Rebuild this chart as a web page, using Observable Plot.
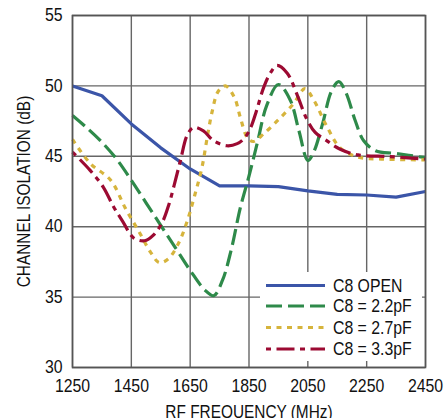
<!DOCTYPE html>
<html>
<head>
<meta charset="utf-8">
<script src="https://cdn.jsdelivr.net/npm/d3@7"></script>
<script src="https://cdn.jsdelivr.net/npm/@observablehq/plot@0.6"></script>
<style>
  html, body { margin: 0; padding: 0; background: #fff; }
  #chart { width: 445px; height: 418px; overflow: hidden; }
</style>
</head>
<body>
<div id="chart"></div>
<script>
const FONT = "'Liberation Sans', Arial, Helvetica, sans-serif";
const SQUEEZE = 0.88;

const xTicks = [1250, 1450, 1650, 1850, 2050, 2250, 2450];
const yTicks = [30, 35, 40, 45, 50, 55];
const xLabel = "RF FREQUENCY (MHz)";
const yLabel = "CHANNEL ISOLATION (dB)";
const seriesNames = ["C8 OPEN", "C8 = 2.2pF", "C8 = 2.7pF", "C8 = 3.3pF"];

const openFreq = [1250, 1350, 1450, 1550, 1650, 1700, 1750, 1850, 1950, 2050, 2150, 2250, 2350, 2450];
const openVal  = [50.0, 49.3, 47.3, 45.6, 44.1, 43.5, 42.9, 42.9, 42.85, 42.55, 42.3, 42.25, 42.1, 42.5];

const c22Freq = [1250, 1300, 1350, 1400, 1450, 1500, 1550, 1600, 1650, 1700, 1730, 1760, 1790, 1820, 1850, 1880, 1910, 1950, 1990, 2020, 2050, 2070, 2100, 2130, 2155, 2180, 2210, 2240, 2280, 2350, 2450];
const c22Val  = [47.9, 47.0, 46.0, 44.8, 43.3, 41.7, 40.1, 38.5, 36.9, 35.5, 35.1, 36.2, 38.4, 41.3, 43.6, 46.1, 48.6, 50.1, 49.0, 46.8, 44.7, 45.3, 47.3, 49.6, 50.3, 49.5, 47.6, 46.1, 45.4, 45.2, 44.9];

const c27Freq = [1250, 1310, 1380, 1430, 1480, 1515, 1545, 1575, 1610, 1640, 1665, 1690, 1710, 1725, 1745, 1770, 1800, 1820, 1845, 1865, 1900, 1950, 2000, 2040, 2070, 2115, 2160, 2220, 2300, 2450];
const c27Val  = [46.2, 44.5, 43.3, 41.3, 39.5, 38.2, 37.45, 37.7, 38.8, 40.4, 42.2, 44.2, 46.6, 48.2, 49.6, 50.0, 49.2, 47.8, 46.3, 46.05, 46.6, 47.6, 48.7, 49.8, 49.0, 47.1, 45.6, 44.95, 44.8, 44.75];

const c33Freq = [1250, 1310, 1355, 1390, 1420, 1458, 1495, 1525, 1555, 1578, 1595, 1617, 1640, 1662, 1695, 1730, 1775, 1810, 1835, 1855, 1875, 1900, 1925, 1945, 1980, 2015, 2045, 2075, 2115, 2160, 2220, 2330, 2450];
const c33Val  = [45.3, 44.0, 42.8, 41.4, 40.4, 39.2, 39.0, 39.4, 40.3, 41.6, 42.9, 44.7, 46.5, 47.05, 46.8, 46.1, 45.75, 45.9, 46.3, 47.0, 48.2, 49.9, 51.0, 51.45, 50.9, 49.3, 47.7, 46.7, 46.1, 45.5, 45.1, 44.98, 44.8];

const colors = ["#3b55a8", "#2e8a4a", "#d6b43c", "#9c0a32"];
const dashes = [null, "16,6", "5,5.5", "5,5.5,18,5.5"];
const curves = ["linear", "catmull-rom", "catmull-rom", "catmull-rom"];

const toRows = (fs, vs) => fs.map((f, i) => ({f, v: vs[i]}));
const series = [toRows(openFreq, openVal), toRows(c22Freq, c22Val), toRows(c27Freq, c27Val), toRows(c33Freq, c33Val)];

const W = 445, H = 418;
const mL = 72, mR = 20, mT = 15, mB = 51;

const plot = Plot.plot({
  width: W,
  height: H,
  marginLeft: mL,
  marginRight: mR,
  marginTop: mT,
  marginBottom: mB,
  style: {fontFamily: FONT, fontSize: "18px", color: "#111", background: "#fff", overflow: "visible"},
  x: {domain: [1250, 2450]},
  y: {domain: [30, 55]},
  marks: [
    Plot.gridX(xTicks, {stroke: "#666", strokeOpacity: 1, strokeWidth: 1.4}),
    Plot.gridY(yTicks, {stroke: "#666", strokeOpacity: 1, strokeWidth: 1.4}),
    ...series.map((rows, i) => Plot.line(rows, {
      x: "f", y: "v", stroke: colors[i], strokeWidth: 3.2,
      strokeDasharray: dashes[i], curve: curves[i], strokeLinecap: "butt"
    })),
    Plot.frame({stroke: "#555", strokeWidth: 1.6}),
    Plot.axisX(xTicks, {tickSize: 0, tickPadding: 12, label: null, fontSize: 18, fill: "#111", tickFormat: d => String(d)}),
    Plot.axisY(yTicks, {tickSize: 0, tickPadding: 10, label: null, fontSize: 18, fill: "#111", tickFormat: d => String(d)}),
    Plot.text([xLabel], {frameAnchor: "bottom", dy: 38, fontSize: 17.5, fill: "#111", textAnchor: "middle", lineAnchor: "top"}),
    Plot.text([yLabel], {frameAnchor: "left", dx: -48, fontSize: 17.5, fill: "#111", rotate: -90, textAnchor: "middle"})
  ]
});

const svg = d3.select(plot);

// Condense all text horizontally (reference uses a condensed sans face)
svg.selectAll("text").each(function() {
  const t = d3.select(this);
  const x = parseFloat(t.attr("x")) || 0;
  const tr = t.attr("transform") || "";
  t.attr("x", null);
  t.attr("transform", `${tr} translate(${x},0) scale(${SQUEEZE},1)`);
});

// Legend box inside the plot area (lower right)
const lg = svg.append("g").attr("font-family", FONT).attr("font-size", 18).attr("text-anchor", "start");
lg.append("rect").attr("x", 260).attr("y", 272).attr("width", 162).attr("height", 89).attr("fill", "#fff");
const rowY = [285.5, 306, 327.5, 349];
seriesNames.forEach((name, i) => {
  lg.append("line")
    .attr("x1", 266).attr("x2", 325).attr("y1", rowY[i]).attr("y2", rowY[i])
    .attr("stroke", colors[i]).attr("stroke-width", 3.2)
    .attr("stroke-dasharray", dashes[i])
    .attr("stroke-linecap", "butt");
  lg.append("text")
    .attr("transform", `translate(333,${rowY[i]}) scale(${SQUEEZE},1)`)
    .attr("dy", "0.36em")
    .attr("text-anchor", "start")
    .attr("fill", "#111").text(name);
});

document.getElementById("chart").appendChild(plot);
</script>
</body>
</html>
